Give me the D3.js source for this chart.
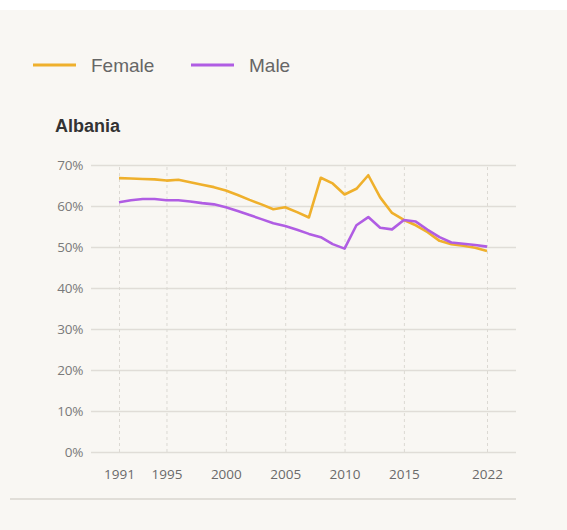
<!DOCTYPE html>
<html>
<head>
<meta charset="utf-8">
<script src="https://cdn.jsdelivr.net/npm/d3@7"></script>
<style>
  body { margin: 0; background: #fff; }
  #chart svg { display: block; }
</style>
</head>
<body>
<div id="chart"></div>
<script>
(function () {

  // data
  const years = d3.range(1991, 2023)
  const female = [66.8, 66.7, 66.6, 66.5, 66.2, 66.4, 65.8, 65.2, 64.6, 63.8,
    62.7, 61.5, 60.4, 59.2, 59.7, 58.5, 57.2, 66.9, 65.5, 62.8,
    64.2, 67.5, 62.1, 58.3, 56.6, 55.3, 53.6, 51.5, 50.7, 50.3,
    49.8, 49.0]
  const male = [60.9, 61.4, 61.7, 61.7, 61.4, 61.4, 61.1, 60.7, 60.4, 59.7,
    58.8, 57.8, 56.8, 55.8, 55.1, 54.2, 53.2, 52.4, 50.7, 49.6,
    55.3, 57.3, 54.7, 54.3, 56.6, 56.2, 54.2, 52.4, 51.1, 50.8,
    50.5, 50.1]
  const xTicks = [1991, 1995, 2000, 2005, 2010, 2015, 2022]
  const yTicks = [0, 10, 20, 30, 40, 50, 60, 70]
  const seriesNames = ["Female", "Male"]
  const colors = ["#efb02c", "#b05de3"]

  const width = 567
  const height = 530
  const plot = { left: 91, right: 516, top: 165, bottom: 452 }

  const svg = d3.select("#chart").append("svg")
      .attr("width", width)
      .attr("height", height)

  svg.append("rect")
    .attr("x", 0).attr("y", 10)
    .attr("width", width).attr("height", height - 10)
    .attr("fill", "#f9f7f3")

  const xPositionScale = d3.scaleLinear()
    .domain([1991, 2022])
    .range([119, 487])

  const yPositionScale = d3.scaleLinear()
    .domain([0, 70])
    .range([plot.bottom, plot.top])

  // legend
  const legend = svg.append("g")
  const legendX = [33, 191]
  seriesNames.forEach((name, i) => {
    legend.append("line")
      .attr("x1", legendX[i]).attr("x2", legendX[i] + 43)
      .attr("y1", 65).attr("y2", 65)
      .attr("stroke", colors[i])
      .attr("stroke-width", 3)
    legend.append("text")
      .attr("x", legendX[i] + 58)
      .attr("y", 72)
      .attr("font-family", "Liberation Sans, Arial, sans-serif")
      .attr("font-size", 19)
      .attr("fill", "#666")
      .text(name)
  })

  // title
  svg.append("text")
    .attr("x", 55)
    .attr("y", 132)
    .attr("font-family", "Liberation Sans, Arial, sans-serif")
    .attr("font-weight", "bold")
    .attr("font-size", 18)
    .attr("fill", "#333")
    .text("Albania")

  // y axis + horizontal grid
  const yAxis = d3.axisLeft(yPositionScale)
    .tickValues(yTicks)
    .tickFormat(d => d + "%")
    .tickSize(-(plot.right - plot.left))
    .tickPadding(8)

  const yG = svg.append("g")
    .attr("transform", "translate(" + plot.left + ",0)")
    .call(yAxis)
  yG.select(".domain").remove()
  yG.selectAll("line")
    .attr("stroke", "#e0ddd7")
    .attr("stroke-width", 1.3)
  yG.selectAll("text")
    .attr("font-family", "Open Sans, sans-serif")
    .attr("font-size", 13.5)
    .attr("letter-spacing", -0.3)
    .attr("fill", "#7a7a7a")

  // x axis + dashed vertical grid
  const xAxis = d3.axisBottom(xPositionScale)
    .tickValues(xTicks)
    .tickFormat(d3.format("d"))
    .tickSize(-(plot.bottom - plot.top))
    .tickPadding(17)

  const xG = svg.append("g")
    .attr("transform", "translate(0," + plot.bottom + ")")
    .call(xAxis)
  xG.select(".domain").remove()
  xG.selectAll("line")
    .attr("stroke", "#dcd9d3")
    .attr("stroke-dasharray", "3,3")
  xG.selectAll("text")
    .attr("font-family", "Open Sans, sans-serif")
    .attr("font-size", 13.5)
    .attr("fill", "#6a6a6a")

  // lines
  const line = d3.line()
    .x((d, i) => xPositionScale(years[i]))
    .y(d => yPositionScale(d))

  svg.selectAll(".series")
    .data([female, male])
    .join("path")
    .attr("class", "series")
    .attr("d", d => line(d))
    .attr("fill", "none")
    .attr("stroke", (d, i) => colors[i])
    .attr("stroke-width", 2.6)
    .attr("stroke-linejoin", "round")

  // bottom separator
  svg.append("line")
    .attr("x1", 10).attr("x2", plot.right)
    .attr("y1", 499).attr("y2", 499)
    .attr("stroke", "#c9c5bd")
    .attr("stroke-width", 1)

})();
</script>
</body>
</html>
